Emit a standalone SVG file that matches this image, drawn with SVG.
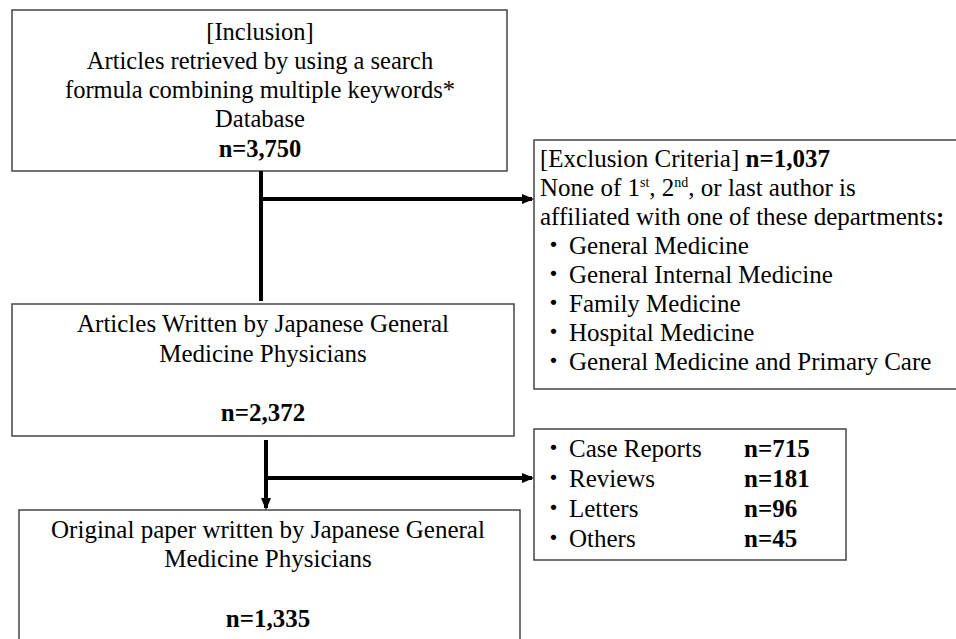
<svg xmlns="http://www.w3.org/2000/svg" width="956" height="639" viewBox="0 0 956 639">
<style>
.box{fill:#fff;stroke:#444;stroke-width:1.5}
text{font-family:"Liberation Serif","Noto Sans CJK JP",serif;font-size:25px;fill:#000}
.s{font-size:24.5px}
.c{text-anchor:middle}
.b{font-weight:bold}
.ln{stroke:#000;stroke-width:4;fill:none}
</style>
<defs>
<marker id="ah" markerWidth="12" markerHeight="12" refX="10" refY="6" orient="auto" markerUnits="userSpaceOnUse">
<path d="M0,1 L12,6 L0,11 z" fill="#000"/>
</marker>
</defs>
<g id="inclusion">
<rect class="box" x="12" y="10" width="495" height="161"/>
<text class="c s" x="260" y="40">[Inclusion]</text>
<text class="c s" x="260" y="69">Articles retrieved by using a search</text>
<text class="c s" x="260" y="98">formula combining multiple keywords*</text>
<text class="c s" x="260" y="127">Database</text>
<text class="c b s" x="260" y="157">n=3,750</text>
</g>
<g id="exclusion">
<rect class="box" x="534" y="140" width="430" height="249"/>
<text x="540" y="167">[Exclusion Criteria]<tspan class="b"> n=1,037</tspan></text>
<text x="540" y="196">None of 1<tspan font-size="14" dy="-9">st</tspan><tspan dy="9">, 2</tspan><tspan font-size="14" dy="-9">nd</tspan><tspan dy="9">, or last author is</tspan></text>
<text x="540" y="225">affiliated with one of these departments<tspan class="b">:</tspan></text>
<text x="541" y="254">・<tspan x="569">General Medicine</tspan></text>
<text x="541" y="283">・<tspan x="569">General Internal Medicine</tspan></text>
<text x="541" y="312">・<tspan x="569">Family Medicine</tspan></text>
<text x="541" y="341">・<tspan x="569">Hospital Medicine</tspan></text>
<text x="541" y="370">・<tspan x="569">General Medicine and Primary Care</tspan></text>
</g>
<g id="written">
<rect class="box" x="12" y="304" width="502" height="132"/>
<text class="c" x="263" y="332">Articles Written by Japanese General</text>
<text class="c" x="263" y="362">Medicine Physicians</text>
<text class="c b" x="263" y="421">n=2,372</text>
</g>
<g id="types">
<rect class="box" x="534" y="429" width="312" height="131"/>
<text x="541" y="457">・<tspan x="569">Case Reports</tspan></text>
<text class="b" x="744" y="457">n=715</text>
<text x="541" y="487">・<tspan x="569">Reviews</tspan></text>
<text class="b" x="744" y="487">n=181</text>
<text x="541" y="517">・<tspan x="569">Letters</tspan></text>
<text class="b" x="744" y="517">n=96</text>
<text x="541" y="547">・<tspan x="569">Others</tspan></text>
<text class="b" x="744" y="547">n=45</text>
</g>
<g id="original">
<rect class="box" x="19" y="510" width="501" height="140"/>
<text class="c" x="268" y="538">Original paper written by Japanese General</text>
<text class="c" x="268" y="567">Medicine Physicians</text>
<text class="c b" x="268" y="627">n=1,335</text>
</g>
<g id="connectors">
<line class="ln" x1="261" y1="171" x2="261" y2="301"/>
<line class="ln" x1="261" y1="199" x2="532" y2="199" marker-end="url(#ah)"/>
<line class="ln" x1="266" y1="440" x2="266" y2="508" marker-end="url(#ah)"/>
<line class="ln" x1="266" y1="478" x2="532" y2="478" marker-end="url(#ah)"/>
</g>
</svg>
